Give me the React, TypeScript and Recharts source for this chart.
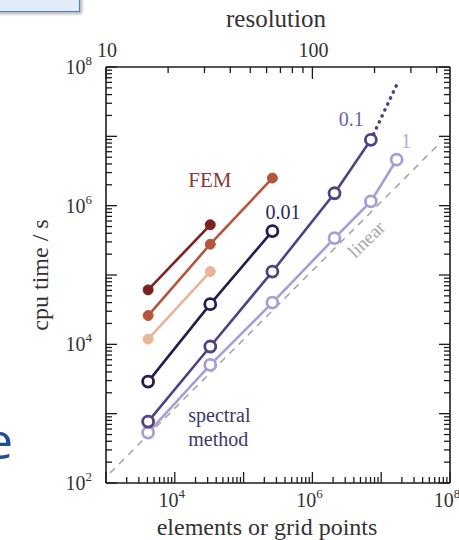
import { LineChart, Line, XAxis, YAxis, ReferenceDot } from 'recharts';

// grid points of each run (resolution cubed: 16, 32, 64, 128, 192, 256)
const N_FEM = [4096, 32768, 262144];
const N_SPEC = [4096, 32768, 262144, 2097152, 7077888, 16777216];
const N_EXTRA = [7077888, 16777216];

// cpu time in seconds
const FEM_DARK = [6.1e4, 5.3e5];
const FEM_MID = [2.6e4, 2.78e5, 2.5e6];
const FEM_LIGHT = [1.19e4, 1.12e5];
const SPEC_001 = [2.9e3, 3.8e4, 4.3e5];
const SPEC_01 = [768, 9.3e3, 1.12e5, 1.51e6, 8.9e6];
const SPEC_01_EXTRA = [8.9e6, 5.5e7]; // dotted extrapolation
const SPEC_1 = [532, 5.05e3, 4.0e4, 3.4e5, 1.15e6, 4.6e6];

// dashed "linear" guide
const LINEAR_N = [1.14e3, 6.7e7];
const LINEAR_T = [139, 7.5e6];

// axes
const X_DECADES = [3, 4, 5, 6, 7, 8];
const X_LABELLED = [4, 6, 8];
const Y_DECADES = [2, 3, 4, 5, 6, 7, 8];
const Y_LABELLED = [2, 4, 6, 8];
const RES_TICKS = [10, 20, 30, 40, 50, 60, 70, 80, 90, 100, 200, 300, 400];
const RES_LABELLED = [10, 100];

const SERIF = '"Liberation Serif", "Times New Roman", serif';
const AXIS = '#1c1c1c';
const LABEL = '#333';

const C = {
  femDark: '#7b2320',
  femMid: '#b3563b',
  femLight: '#eab49a',
  s001: '#231d4f',
  s01: '#4d4385',
  s1: '#a79ed6',
  linear: '#9c9c9c',
};

const pts = (ns: number[], ts: number[]) => ts.map((t, i) => ({ n: ns[i], t }));

const logTicks = (decades: number[]) => {
  const out: number[] = [];
  decades.forEach((d, i) => {
    const top = i === decades.length - 1 ? 1 : 9;
    for (let k = 1; k <= top; k++) out.push(k * 10 ** d);
  });
  return out;
};

const X_TICKS = logTicks(X_DECADES);
const Y_TICKS = logTicks(Y_DECADES);
const TOP_TICKS = RES_TICKS.map((r) => r ** 3);

const decadeOf = (v: number) => {
  const e = Math.log10(v);
  return Math.abs(e - Math.round(e)) < 1e-9 ? Math.round(e) : null;
};

const Pow = ({ x, y, exp, anchor }: any) => (
  <text x={x} y={y} textAnchor={anchor} fontFamily={SERIF} fontSize={20} fill={LABEL}>
    10
    <tspan dy={-9} fontSize={13}>
      {exp}
    </tspan>
  </text>
);

const BottomTick = ({ x, y, payload }: any) => {
  const d = decadeOf(payload.value);
  const len = d !== null ? 11 : 6;
  return (
    <g>
      <line x1={x} x2={x} y1={y} y2={y - len} stroke={AXIS} strokeWidth={1.3} />
      {d !== null && X_LABELLED.includes(d) && <Pow x={x - 3} y={y + 24} exp={d} anchor="middle" />}
    </g>
  );
};

const LeftTick = ({ x, y, payload }: any) => {
  const d = decadeOf(payload.value);
  const len = d !== null ? 11 : 6;
  return (
    <g>
      <line x1={x} x2={x + len} y1={y} y2={y} stroke={AXIS} strokeWidth={1.3} />
      {d !== null && Y_LABELLED.includes(d) && <Pow x={x - 14} y={y + 7} exp={d} anchor="end" />}
    </g>
  );
};

const RightTick = ({ x, y, payload }: any) => {
  const d = decadeOf(payload.value);
  const len = d !== null ? 11 : 6;
  return <line x1={x} x2={x - len} y1={y} y2={y} stroke={AXIS} strokeWidth={1.3} />;
};

const TopTick = ({ x, y, payload }: any) => {
  const r = Math.round(Math.cbrt(payload.value));
  const major = RES_LABELLED.includes(r);
  return (
    <g>
      <line x1={x} x2={x} y1={y} y2={y + (major ? 12 : 6)} stroke={AXIS} strokeWidth={1.3} />
      {major && (
        <text x={x + 1} y={y - 10} textAnchor="middle" fontFamily={SERIF} fontSize={20} fill={LABEL}>
          {r}
        </text>
      )}
    </g>
  );
};

const centre = (vb: any) => ({ cx: vb.x + (vb.width || 0) / 2, cy: vb.y + (vb.height || 0) / 2 });

const anno =
  (lines: string[], color: string, size: number, anchor = 'middle', angle = 0) =>
  (props: any) => {
    const { cx, cy } = centre(props.viewBox);
    return (
      <text
        x={cx}
        y={cy}
        textAnchor={anchor}
        fontFamily={SERIF}
        fontSize={size}
        fill={color}
        transform={angle ? `rotate(${angle} ${cx} ${cy})` : undefined}
      >
        {lines.map((l, i) => (
          <tspan key={l} x={cx} dy={i === 0 ? 0 : size * 1.2}>
            {l}
          </tspan>
        ))}
      </text>
    );
  };

const ids = { xAxisId: 'n', yAxisId: 't' };

const femDot = (c: string) => ({ r: 5, fill: c, stroke: c, strokeWidth: 1 });
const specDot = (c: string) => ({ r: 5.5, fill: '#fff', stroke: c, strokeWidth: 2.8 });

export default function App() {
  return (
    <div style={{ position: 'absolute', left: 0, top: 0, width: 459, height: 540, overflow: 'hidden', background: '#fff' }}>
      {/* bits of the surrounding slide */}
      <div
        style={{
          position: 'absolute',
          left: -10,
          top: -20,
          width: 88,
          height: 30,
          border: '1.5px solid #4a7fd4',
          background: '#e3ecfa',
          boxShadow: '2px 2px 3px rgba(0,0,0,0.3)',
        }}
      />
      <div
        style={{
          position: 'absolute',
          left: -15,
          top: 415,
          fontFamily: '"Open Sans", sans-serif',
          fontSize: 50,
          lineHeight: 1,
          color: '#1f4e96',
        }}
      >
        e
      </div>

      <LineChart width={459} height={540} margin={{ top: 0, right: 0, bottom: 0, left: 0 }}>
        <XAxis
          xAxisId="n"
          dataKey="n"
          type="number"
          scale="log"
          domain={[1e3, 1e8]}
          allowDataOverflow
          ticks={X_TICKS}
          interval={0}
          height={57}
          tickSize={0}
          tickMargin={0}
          tickLine={false}
          tick={<BottomTick />}
          axisLine={{ stroke: AXIS, strokeWidth: 1.6 }}
          label={(p: any) => (
            <text
              x={p.viewBox.x + p.viewBox.width / 2 - 11}
              y={p.viewBox.y + p.viewBox.height - 5}
              textAnchor="middle"
              fontFamily={SERIF}
              fontSize={24}
              fill={LABEL}
            >
              elements or grid points
            </text>
          )}
        />
        <XAxis
          xAxisId="res"
          orientation="top"
          dataKey="n"
          type="number"
          scale="log"
          domain={[1e3, 1e8]}
          allowDataOverflow
          ticks={TOP_TICKS}
          interval={0}
          height={67}
          tickSize={0}
          tickMargin={0}
          tickLine={false}
          tick={<TopTick />}
          axisLine={{ stroke: AXIS, strokeWidth: 1.6 }}
          label={(p: any) => (
            <text
              x={p.viewBox.x + p.viewBox.width / 2 - 2}
              y={27}
              textAnchor="middle"
              fontFamily={SERIF}
              fontSize={25}
              fill={LABEL}
            >
              resolution
            </text>
          )}
        />
        <YAxis
          yAxisId="t"
          type="number"
          scale="log"
          domain={[1e2, 1e8]}
          allowDataOverflow
          ticks={Y_TICKS}
          interval={0}
          width={106}
          tickSize={0}
          tickMargin={0}
          tickLine={false}
          tick={<LeftTick />}
          axisLine={{ stroke: AXIS, strokeWidth: 1.6 }}
          label={(p: any) => {
            const x = 48;
            const y = p.viewBox.y + p.viewBox.height / 2;
            return (
              <text
                x={x}
                y={y}
                textAnchor="middle"
                fontFamily={SERIF}
                fontSize={24}
                fill={LABEL}
                transform={`rotate(-90 ${x} ${y})`}
              >
                cpu time / s
              </text>
            );
          }}
        />
        <YAxis
          yAxisId="r"
          orientation="right"
          type="number"
          scale="log"
          domain={[1e2, 1e8]}
          allowDataOverflow
          ticks={Y_TICKS}
          interval={0}
          width={9}
          tickSize={0}
          tickMargin={0}
          tickLine={false}
          tick={<RightTick />}
          axisLine={{ stroke: AXIS, strokeWidth: 1.6 }}
        />

        <Line
          {...ids}
          data={pts(LINEAR_N, LINEAR_T)}
          dataKey="t"
          stroke={C.linear}
          strokeWidth={1.4}
          strokeDasharray="7 6"
          dot={false}
          isAnimationActive={false}
        />

        <Line {...ids} data={pts(N_FEM, FEM_DARK)} dataKey="t" stroke={C.femDark} strokeWidth={2.6} dot={femDot(C.femDark)} isAnimationActive={false} />
        <Line {...ids} data={pts(N_FEM, FEM_MID)} dataKey="t" stroke={C.femMid} strokeWidth={2.6} dot={femDot(C.femMid)} isAnimationActive={false} />
        <Line {...ids} data={pts(N_FEM, FEM_LIGHT)} dataKey="t" stroke={C.femLight} strokeWidth={2.6} dot={femDot(C.femLight)} isAnimationActive={false} />

        <Line
          {...ids}
          data={pts(N_EXTRA, SPEC_01_EXTRA)}
          dataKey="t"
          stroke={C.s01}
          strokeWidth={3.6}
          strokeDasharray="0.1 6.5"
          strokeLinecap="round"
          dot={false}
          isAnimationActive={false}
        />
        <Line {...ids} data={pts(N_SPEC, SPEC_1)} dataKey="t" stroke={C.s1} strokeWidth={2.6} dot={specDot(C.s1)} isAnimationActive={false} />
        <Line {...ids} data={pts(N_SPEC, SPEC_01)} dataKey="t" stroke={C.s01} strokeWidth={2.6} dot={specDot(C.s01)} isAnimationActive={false} />
        <Line {...ids} data={pts(N_SPEC, SPEC_001)} dataKey="t" stroke={C.s001} strokeWidth={2.6} dot={specDot(C.s001)} isAnimationActive={false} />

        <ReferenceDot {...ids} x={3.23e4} y={1.87e6} r={0} fill="none" stroke="none" label={anno(['FEM'], '#8a3a33', 21)} />
        <ReferenceDot {...ids} x={3.74e5} y={6.46e5} r={0} fill="none" stroke="none" label={anno(['0.01'], '#2c2858', 20)} />
        <ReferenceDot {...ids} x={3.66e6} y={1.42e7} r={0} fill="none" stroke="none" label={anno(['0.1'], '#6c62a2', 20)} />
        <ReferenceDot {...ids} x={2.29e7} y={6.8e6} r={0} fill="none" stroke="none" label={anno(['1'], '#b4acdf', 21)} />
        <ReferenceDot {...ids} x={7.05e6} y={2.81e5} r={0} fill="none" stroke="none" label={anno(['linear'], '#a8a8a8', 19, 'middle', -44)} />
        <ReferenceDot {...ids} x={1.57e4} y={759} r={0} fill="none" stroke="none" label={anno(['spectral', 'method'], '#3c3966', 20, 'start')} />
      </LineChart>
    </div>
  );
}
